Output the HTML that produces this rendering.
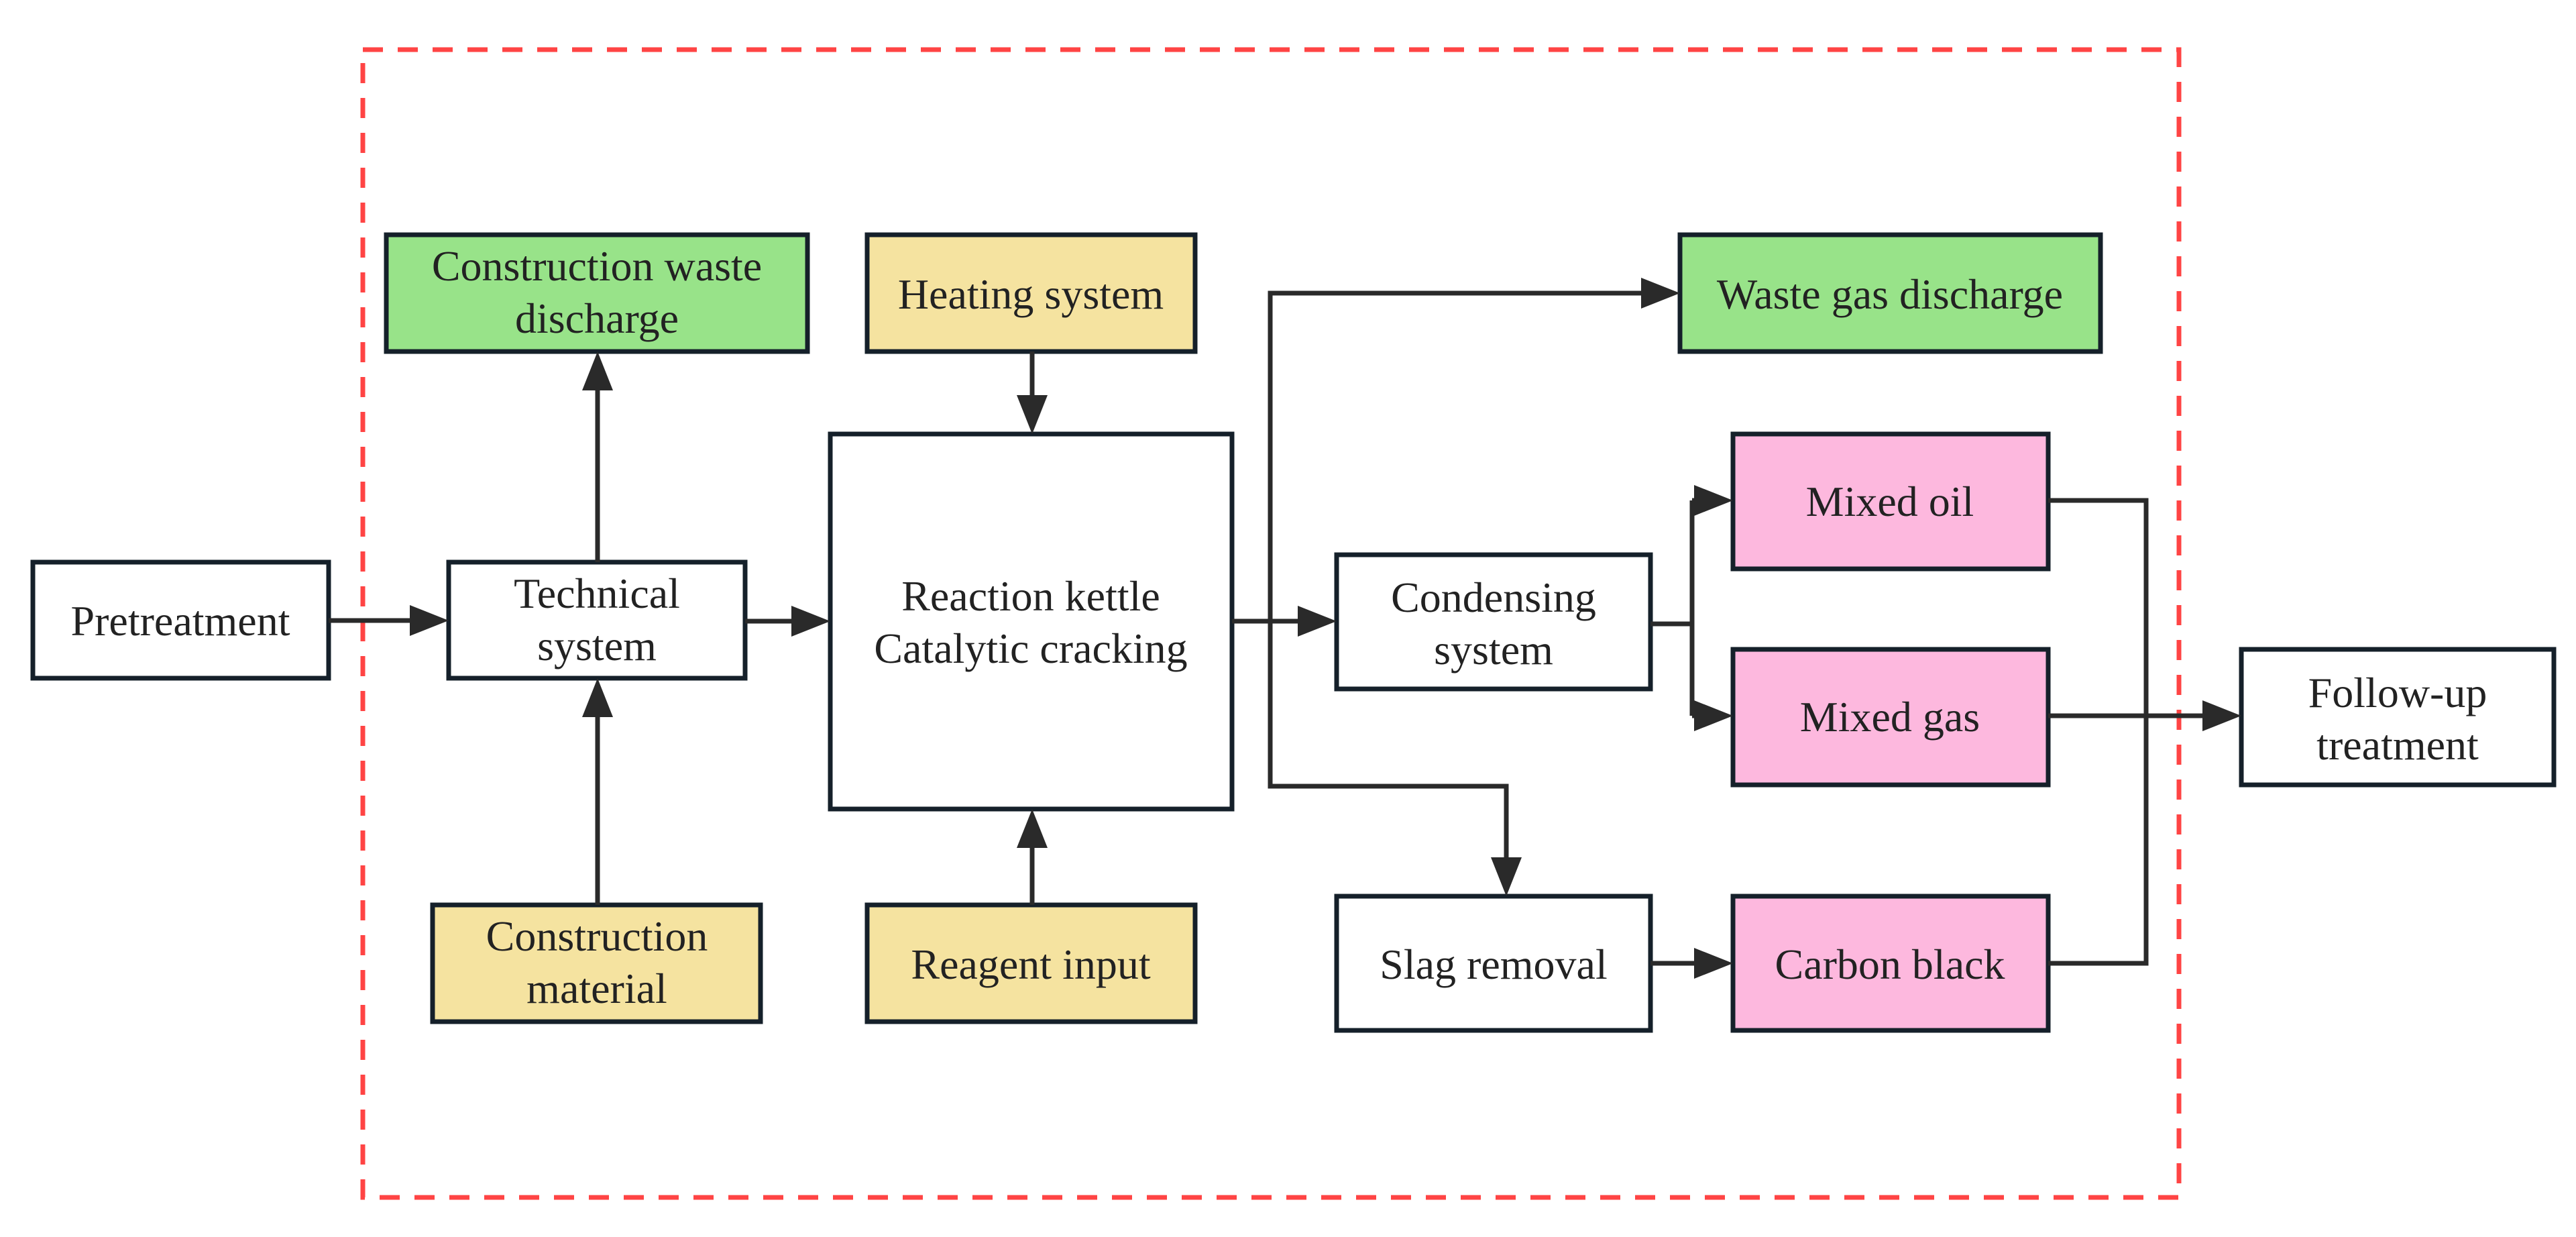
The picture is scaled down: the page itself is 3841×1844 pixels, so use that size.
<!DOCTYPE html>
<html><head><meta charset="utf-8"><style>
html,body{margin:0;padding:0;background:#fff;}
svg{display:block;}
text{font-family:"Liberation Serif",serif;font-size:64px;fill:#222;text-anchor:middle;}
</style></head><body>
<svg width="3841" height="1844" viewBox="0 0 3841 1844" xmlns="http://www.w3.org/2000/svg">
<rect x="541" y="74" width="2708" height="1711" fill="none" stroke="#f44" stroke-width="7" stroke-dasharray="30 22"/>
<g stroke="#15202a" stroke-width="7">
<rect x="49" y="838" width="441" height="173" fill="#fff"/>
<rect x="669" y="838" width="442" height="173" fill="#fff"/>
<rect x="576" y="350" width="628" height="174" fill="#98e389"/>
<rect x="1293" y="350" width="489" height="174" fill="#f5e3a0"/>
<rect x="1238" y="647" width="599" height="559" fill="#fff"/>
<rect x="645" y="1349" width="489" height="174" fill="#f5e3a0"/>
<rect x="1293" y="1349" width="489" height="174" fill="#f5e3a0"/>
<rect x="2505" y="350" width="627" height="174" fill="#98e389"/>
<rect x="2584" y="647" width="470" height="201" fill="#fdb8de"/>
<rect x="1993" y="827" width="468" height="200" fill="#fff"/>
<rect x="2584" y="968" width="470" height="202" fill="#fdb8de"/>
<rect x="1993" y="1336" width="468" height="200" fill="#fff"/>
<rect x="2584" y="1336" width="470" height="200" fill="#fdb8de"/>
<rect x="3342" y="968" width="466" height="202" fill="#fff"/>
</g>
<g stroke="#2a2a2a" stroke-width="7" fill="none">
<path d="M490 925 H620"/>
<path d="M1111 926 H1190"/>
<path d="M891 838 V580"/>
<path d="M891 1349 V1068"/>
<path d="M1539 524 V595"/>
<path d="M1539 1349 V1260"/>
<path d="M1837 926 H1943"/>
<path d="M1894 926 V437 H2450"/>
<path d="M1894 926 V1172 H2246 V1285"/>
<path d="M2461 930 H2523"/>
<path d="M2523 746 V1067"/>
<path d="M2523 746 H2530 M2523 1067 H2530"/>
<path d="M3054 746 H3200 V1436 H3054"/>
<path d="M3054 1067 H3290"/>
<path d="M2461 1436 H2530"/>
</g>
<g fill="#2a2a2a">
<polygon points="669,925 611,902 611,948"/>
<polygon points="1238,926 1180,903 1180,949"/>
<polygon points="891,524 868,582 914,582"/>
<polygon points="891,1011 868,1069 914,1069"/>
<polygon points="1539,647 1516,589 1562,589"/>
<polygon points="1539,1206 1516,1264 1562,1264"/>
<polygon points="1993,926 1935,903 1935,949"/>
<polygon points="2505,437 2447,414 2447,460"/>
<polygon points="2246,1336 2223,1278 2269,1278"/>
<polygon points="2584,746 2526,723 2526,769"/>
<polygon points="2584,1067 2526,1044 2526,1090"/>
<polygon points="2584,1436 2526,1413 2526,1459"/>
<polygon points="3342,1067 3284,1044 3284,1090"/>
</g>
<text x="269" y="947">Pretreatment</text>
<text x="890" y="906">Technical</text>
<text x="890" y="984">system</text>
<text x="890" y="418">Construction waste</text>
<text x="890" y="496">discharge</text>
<text x="1537" y="460">Heating system</text>
<text x="1537" y="910">Reaction kettle</text>
<text x="1537" y="988">Catalytic  cracking</text>
<text x="890" y="1417">Construction</text>
<text x="890" y="1495">material</text>
<text x="1537" y="1459">Reagent input</text>
<text x="2818" y="460">Waste gas discharge</text>
<text x="2818" y="769">Mixed oil</text>
<text x="2227" y="912">Condensing</text>
<text x="2227" y="990">system</text>
<text x="2818" y="1090">Mixed gas</text>
<text x="2227" y="1459">Slag removal</text>
<text x="2818" y="1459">Carbon black</text>
<text x="3575" y="1054">Follow-up</text>
<text x="3575" y="1132">treatment</text>
</svg>
</body></html>
